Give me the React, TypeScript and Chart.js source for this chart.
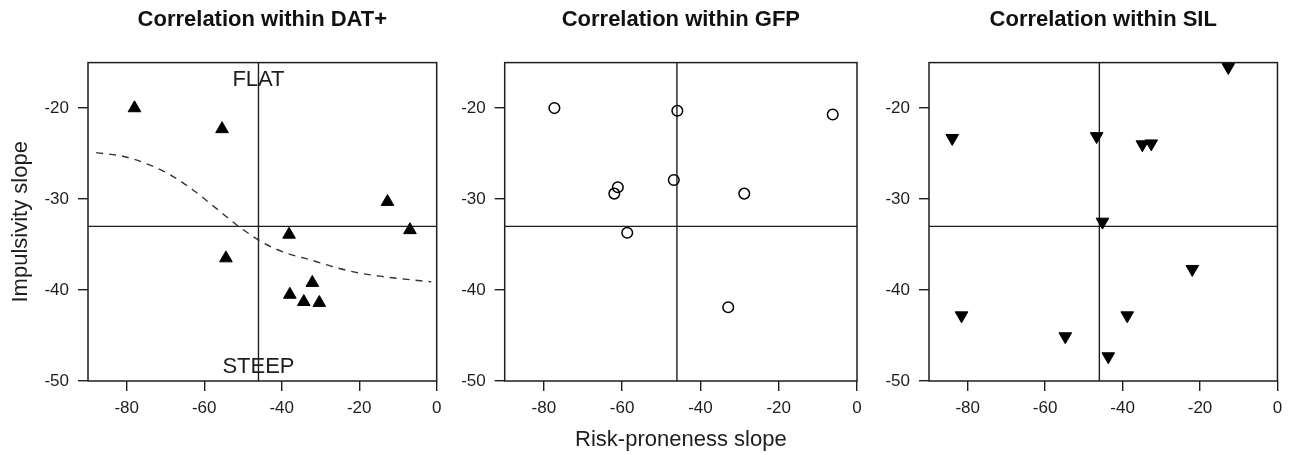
import React, { useEffect, useRef } from 'react';
import { Chart, registerables } from 'chart.js';

Chart.register(...registerables);

// axes shared by all three panels
const xTicks = [-80, -60, -40, -20, 0];
const yTicks = [-50, -40, -30, -20];
const xRange = [-90, 0];
const yRange = [-50, -15];
const splitX = -46;
const splitY = -33;

// DAT+ group
const datX = [-78, -55.4, -54.4, -38.1, -12.7, -6.9, -32.1, -37.9, -34.3, -30.3];
const datY = [-20.0, -22.3, -36.5, -33.9, -30.3, -33.4, -39.2, -40.5, -41.3, -41.4];

// fitted curve within DAT+
const fitX = [-87.9, -81.0, -75.0, -68.9, -62.9, -56.4, -50.8, -44.4, -38.4, -32.4, -26.3, -20.3, -14.3, -8.3, -1.4];
const fitY = [-24.9, -25.3, -26.1, -27.3, -29.0, -31.2, -33.1, -34.9, -36.0, -36.7, -37.5, -38.1, -38.5, -38.8, -39.1];

// GFP group
const gfpX = [-77.3, -45.9, -6.2, -61.1, -62.0, -46.8, -28.8, -58.7, -32.9];
const gfpY = [-20.0, -20.3, -20.7, -28.7, -29.4, -27.9, -29.4, -33.7, -41.9];

// SIL group
const silX = [-12.7, -84.0, -46.7, -34.9, -32.6, -45.2, -22.0, -81.6, -38.8, -54.8, -43.7];
const silY = [-15.5, -23.3, -23.1, -24.0, -23.9, -32.5, -37.7, -42.8, -42.8, -45.1, -47.3];

const quadrantNotes = ['FLAT', 'STEEP'];
const quadrantNoteY = [-16.9, -48.5];

const INK = '#1e1e1e';
const FONT = "'Liberation Sans', Arial, sans-serif";

const toPoints = (xs: number[], ys: number[]) => xs.map((x, i) => ({ x, y: ys[i] }));

interface PanelSpec {
  left: number;
  width: number;
  yWidth: number;
  padRight: number;
  title: string;
  xs: number[];
  ys: number[];
  marker: 'triangle' | 'circle';
  rotation: number;
  filled: boolean;
  yTitle?: string;
  xTitle?: string;
  fit?: boolean;
  notes?: boolean;
}

const panels: PanelSpec[] = [
  {
    left: 0, width: 450, yWidth: 88, padRight: 13.3,
    title: 'Correlation within DAT+', xs: datX, ys: datY,
    marker: 'triangle', rotation: 0, filled: true,
    yTitle: 'Impulsivity slope', fit: true, notes: true,
  },
  {
    left: 450, width: 420, yWidth: 54.7, padRight: 13,
    title: 'Correlation within GFP', xs: gfpX, ys: gfpY,
    marker: 'circle', rotation: 0, filled: false,
    xTitle: 'Risk-proneness slope',
  },
  {
    left: 870, width: 419, yWidth: 59, padRight: 10.3,
    title: 'Correlation within SIL', xs: silX, ys: silY,
    marker: 'triangle', rotation: 180, filled: true,
  },
];

// box around the plot area plus the FLAT / STEEP notes
const framePlugin = {
  id: 'frame',
  afterDatasetsDraw(chart: any, _args: any, opts: any) {
    const { ctx, chartArea: a, scales } = chart;
    ctx.save();
    ctx.strokeStyle = INK;
    ctx.lineWidth = 1.5;
    ctx.strokeRect(a.left, a.top, a.right - a.left, a.bottom - a.top);
    if (opts.notes) {
      ctx.fillStyle = INK;
      ctx.font = `22px ${FONT}`;
      ctx.textAlign = 'center';
      ctx.textBaseline = 'middle';
      quadrantNotes.forEach((t, i) => {
        ctx.fillText(t, scales.x.getPixelForValue(splitX), scales.y.getPixelForValue(quadrantNoteY[i]));
      });
    }
    ctx.restore();
  },
};

function buildDatasets(p: PanelSpec) {
  const radius = p.marker === 'circle' ? 5.3 : 7.3;
  const sets: any[] = [
    {
      data: toPoints(p.xs, p.ys),
      pointStyle: p.marker,
      rotation: p.rotation,
      pointRadius: radius,
      pointHoverRadius: radius,
      backgroundColor: p.filled ? '#000' : 'rgba(0,0,0,0)',
      borderColor: '#000',
      borderWidth: p.filled ? 1 : 1.5,
      clip: false,
    },
  ];
  if (p.fit) {
    sets.push({
      data: toPoints(fitX, fitY),
      showLine: true,
      borderColor: '#333',
      borderWidth: 1.4,
      borderDash: [7, 6],
      pointRadius: 0,
      cubicInterpolationMode: 'monotone',
    });
  }
  sets.push(
    {
      data: [{ x: splitX, y: yRange[0] }, { x: splitX, y: yRange[1] }],
      showLine: true, borderColor: INK, borderWidth: 1.4, pointRadius: 0,
    },
    {
      data: [{ x: xRange[0], y: splitY }, { x: xRange[1], y: splitY }],
      showLine: true, borderColor: INK, borderWidth: 1.4, pointRadius: 0,
    },
  );
  return sets;
}

function buildOptions(p: PanelSpec): any {
  const tickFont = { family: FONT, size: 17 };
  const axisTitleFont = { family: FONT, size: 22 };
  const grid = { drawOnChartArea: false, drawTicks: true, tickLength: 10, color: INK, lineWidth: 1.4 };
  return {
    animation: false,
    responsive: true,
    maintainAspectRatio: false,
    layout: { padding: { left: 0, right: p.padRight, top: 0, bottom: 0 } },
    plugins: {
      legend: { display: false },
      tooltip: { enabled: false },
      title: {
        display: true,
        text: p.title,
        fullSize: false,
        color: '#111',
        font: { family: FONT, size: 22, weight: 'bold' },
        padding: { top: 6.6, bottom: 29.6 },
      },
      frame: { notes: !!p.notes },
    },
    scales: {
      x: {
        type: 'linear',
        min: xRange[0],
        max: xRange[1],
        afterBuildTicks: (s: any) => { s.ticks = xTicks.map((value) => ({ value })); },
        afterFit: (s: any) => { s.height = 74; },
        grid,
        border: { display: false },
        ticks: { color: INK, font: tickFont, padding: 6.8 },
        title: p.xTitle
          ? { display: true, text: p.xTitle, color: INK, font: axisTitleFont, padding: { top: 0, bottom: 1.8 } }
          : { display: false },
      },
      y: {
        type: 'linear',
        min: yRange[0],
        max: yRange[1],
        afterBuildTicks: (s: any) => { s.ticks = yTicks.map((value) => ({ value })); },
        afterFit: (s: any) => { s.width = p.yWidth; },
        grid,
        border: { display: false },
        ticks: { color: INK, font: tickFont, padding: 9 },
        title: p.yTitle
          ? { display: true, text: p.yTitle, color: INK, font: axisTitleFont, padding: { top: 7.3, bottom: 0 } }
          : { display: false },
      },
    },
  };
}

const Panel = ({ spec }: { spec: PanelSpec }) => {
  const canvasRef = useRef<HTMLCanvasElement>(null);

  useEffect(() => {
    if (!canvasRef.current) return;
    const chart = new Chart(canvasRef.current, {
      type: 'scatter',
      data: { datasets: buildDatasets(spec) },
      options: buildOptions(spec),
      plugins: [framePlugin],
    });
    return () => chart.destroy();
  }, [spec]);

  return (
    <div style={{ position: 'absolute', left: spec.left, top: 0, width: spec.width, height: 455 }}>
      <canvas ref={canvasRef} />
    </div>
  );
};

export default function App() {
  return (
    <div style={{ position: 'absolute', left: 0, top: 0, width: 1289, height: 455, background: '#fff', overflow: 'hidden' }}>
      {panels.map((p) => (
        <Panel key={p.title} spec={p} />
      ))}
    </div>
  );
}
